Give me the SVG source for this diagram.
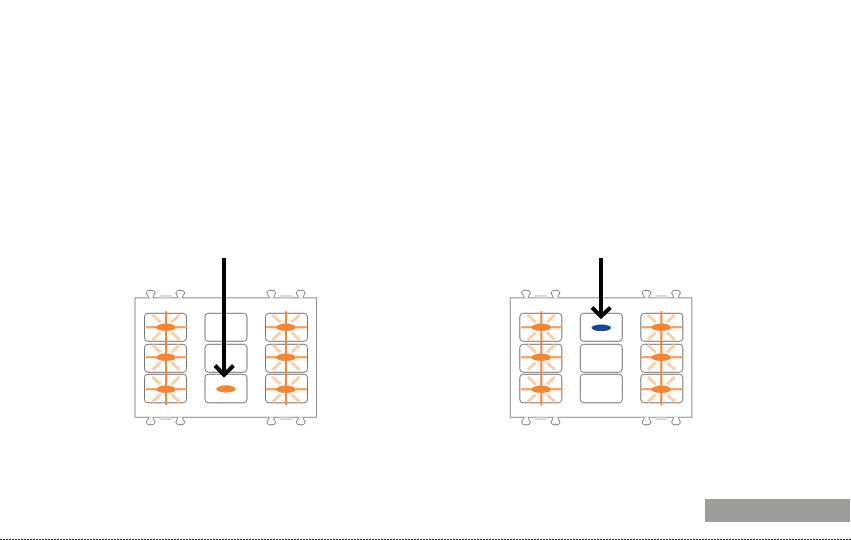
<svg xmlns="http://www.w3.org/2000/svg" width="851" height="540" viewBox="0 0 851 540">
<style>
.plate{fill:#fff;stroke:#8f8f8f;stroke-width:1}
.btn{fill:#fff;stroke:#666;stroke-width:.9}
.clip{fill:#fff;stroke:#666;stroke-width:.9}
.tab{fill:#dedede;stroke:#c4c4c4;stroke-width:.5}
.ray{stroke:#f58634;stroke-width:2;fill:none}
.core{stroke:#fbc79b;stroke-width:.5;fill:none}
.soft{stroke:#fbcfa9;stroke-width:3;fill:none}
.arrow{stroke:#000;stroke-width:4;fill:none}
</style>
<defs>
<g id="flash">
<path class="soft" d="M-13.500-12.500L-5.500-5M13.500-12.500L5.500-5M-13.500 12.500L-5.500 5M13.500 12.500L5.500 5"/>
<path class="ray" d="M0-16V-3M0 3V16M-20 0H-9M10 0H21"/>
<path class="core" d="M-20 0H-10M10 0H21"/>
<ellipse rx="10" ry="3.700" fill="#f58634"/>
</g>
<g id="clips">
<path class="clip" d="M13.500 0C14-2 11.500-3 11.500-5C11.500-7 13.500-7.500 15.500-7.500C18-7.500 20-7 20-5C20-3 17.500-2 18.500 0"/>
<path class="clip" d="M42.500 0C43-2 41-3 41-5C41-7 43-7.500 45-7.500C47.500-7.500 49.500-7 49.500-5C49.500-3 47-2 48 0"/>
<rect class="tab" x="25" y="-2.500" width="11" height="2.500"/>
</g>
<g id="panel">
<rect class="plate" width="181.500" height="119.500"/>
<use href="#clips"/>
<use href="#clips" x="120.500"/>
<use href="#clips" transform="translate(0 119.500) scale(1 -1)"/>
<use href="#clips" transform="translate(120.500 119.500) scale(1 -1)"/>
<rect class="btn" x="9.500" y="15.500" width="42" height="28" rx="3.500"/>
<rect class="btn" x="9.500" y="46.500" width="42" height="28" rx="3.500"/>
<rect class="btn" x="9.500" y="76.500" width="42" height="28.500" rx="3.500"/>
<rect class="btn" x="70" y="15.500" width="42" height="28" rx="3.500"/>
<rect class="btn" x="70" y="46.500" width="42" height="28" rx="3.500"/>
<rect class="btn" x="70" y="76.500" width="42" height="28.500" rx="3.500"/>
<rect class="btn" x="130.500" y="15.500" width="42" height="28" rx="3.500"/>
<rect class="btn" x="130.500" y="46.500" width="42" height="28" rx="3.500"/>
<rect class="btn" x="130.500" y="76.500" width="42" height="28.500" rx="3.500"/>
<use href="#flash" x="31" y="29.500"/>
<use href="#flash" x="31" y="59.500"/>
<use href="#flash" x="31" y="91.500"/>
<use href="#flash" x="151" y="29.500"/>
<use href="#flash" x="151" y="59.500"/>
<use href="#flash" x="151" y="91.500"/>
</g>
</defs>
<g id="keypad-left" transform="translate(135 297.800)">
<use href="#panel"/>
<ellipse cx="91" cy="91.200" rx="9.800" ry="3.700" fill="#f58634"/>
</g>
<g id="keypad-right" transform="translate(510.300 297.800)">
<use href="#panel"/>
<ellipse cx="91" cy="30" rx="9.800" ry="3.300" fill="#1b4595"/>
</g>
<g id="connectors">
<path class="arrow" d="M224 258V376"/>
<path class="arrow" d="M215 365.500L224 375L233.500 365.500"/>
<path class="arrow" d="M601 258V316"/>
<path class="arrow" d="M592 307.500L601 316.500L610.500 307.500"/>
</g>
<rect id="page-tab" x="705" y="499" width="145" height="23" fill="#9d9d9c"/>
<path id="page-edge" d="M0 539.500H851" stroke="#222" stroke-width="1" stroke-dasharray="2 1"/>
</svg>
